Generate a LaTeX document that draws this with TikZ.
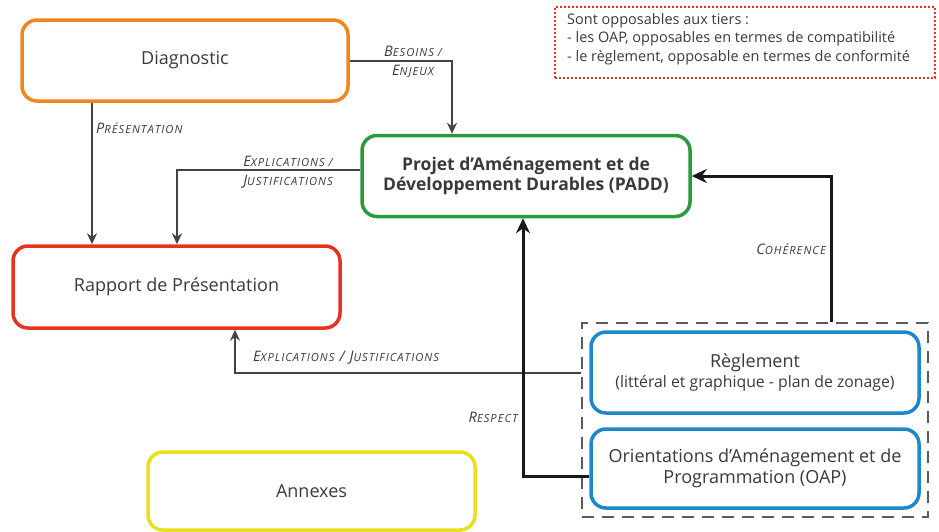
\documentclass[tikz,border=0pt]{standalone}
\usepackage{fontspec}
\setmainfont{Open Sans}
\newfontfamily\lblfont[LetterSpace=9]{Open Sans}
\usetikzlibrary{arrows.meta}
\definecolor{txt}{HTML}{3A3A3E}
\definecolor{cline}{HTML}{46414B}
\definecolor{corange}{HTML}{F0861E}
\definecolor{cred}{HTML}{E8321E}
\definecolor{cgreen}{HTML}{2A9A3C}
\definecolor{cyellow}{HTML}{E6E01E}
\definecolor{cblue}{HTML}{1C88CA}
\definecolor{cgray}{HTML}{5A5A60}
\newcommand\lblsc[2]{#1{\fontsize{11.2}{12}\selectfont #2}}
\tikzset{
  box/.style={draw, line width=3.5pt, rounded corners=15pt, fill=white, inner sep=0pt,
    text=txt, align=center, font=\fontsize{18}{21}\selectfont},
  thin/.style={draw=cline, line width=2pt, -{Stealth[length=11pt,width=10pt]}},
  thick/.style={draw=black!90, line width=3pt, -{Stealth[length=15pt,width=14pt]}},
  lbl/.style={text=txt, font=\lblfont\itshape\fontsize{14.5}{15}\selectfont, inner sep=0pt, align=center}
}
\begin{document}
\begin{tikzpicture}[x=1pt,y=-1pt]
\useasboundingbox (0,0) rectangle (939,531);
% boxes
\node[box, draw=corange, minimum width=326pt, minimum height=81pt] (diag) at (185,60.5) {Diagnostic};
\node[box, draw=cred, minimum width=327pt, minimum height=82pt] (rap) at (176.5,287) {Rapport de Présentation};
\node[box, draw=cyellow, minimum width=327pt, minimum height=78pt] (ann) at (311.5,491) {Annexes};
\node[box, draw=cgreen, minimum width=328pt, minimum height=81pt, font=\bfseries\fontsize{17.5}{20}\selectfont] (padd) at (526,176) {Projet d’Aménagement et de\\Développement Durables (PADD)};
\node[draw=cgray, dashed, dash pattern=on 12pt off 8pt, line width=2pt, minimum width=346pt, minimum height=194pt, inner sep=0pt] (grp) at (755,420) {};
\node[box, draw=cblue, minimum width=328pt, minimum height=81pt] (reg) at (755,372.5) {Règlement\\[-1pt]{\fontsize{15.8}{18}\selectfont (littéral et graphique - plan de zonage)}};
\node[box, draw=cblue, minimum width=328pt, minimum height=79pt] (oap) at (755,468.5) {Orientations d’Aménagement et de\\Programmation (OAP)};
\node[draw=cred, dotted, line width=2pt, minimum width=380pt, minimum height=71pt, inner sep=0pt] (note) at (745,42.5) {};
\node[anchor=north west, inner sep=0pt, text=txt, align=left, font=\fontsize{14.5}{18.5}\selectfont] (notetxt) at (567,13) {Sont opposables aux tiers :\\- les OAP, opposables en termes de compatibilité\\- le règlement, opposable en termes de conformité};
% helper coordinates
\coordinate (bx) at (452,60.5);
\coordinate (px) at (92,0);
\coordinate (ex) at (177,170);
\coordinate (ey) at (235,373);
\coordinate (cx) at (831,0);
\coordinate (rx) at (523,476);
% connectors
\draw[thin] (diag.east) -| (padd.north -| bx);
\draw[thin] (diag.south -| px) -- (rap.north -| px);
\draw[thin] (padd.west |- ex) -| (rap.north -| ex);
\draw[thin] (grp.west |- ey) -| (rap.south -| ey);
\draw[thick] (grp.north -| cx) |- (padd.east);
\draw[thick] (oap.west |- rx) -| (padd.south -| rx);
% labels
\node[lbl] (lb1) at (413,62) {\lblsc{B}{ESOINS /}\\[4pt]\lblsc{E}{NJEUX}};
\node[lbl, anchor=west] (lb2) at (96,128) {\lblsc{P}{RÉSENTATION}};
\node[lbl] (lb3) at (288,172) {\lblsc{E}{XPLICATIONS /}\\[4pt]\lblsc{J}{USTIFICATIONS}};
\node[lbl, anchor=west] (lb4) at (253,358) {\lblsc{E}{XPLICATIONS} / \lblsc{J}{USTIFICATIONS}};
\node[lbl, anchor=east] (lb5) at (826,249) {\lblsc{C}{OHÉRENCE}};
\node[lbl, anchor=east] (lb6) at (518,417) {\lblsc{R}{ESPECT}};
\end{tikzpicture}
\end{document}
